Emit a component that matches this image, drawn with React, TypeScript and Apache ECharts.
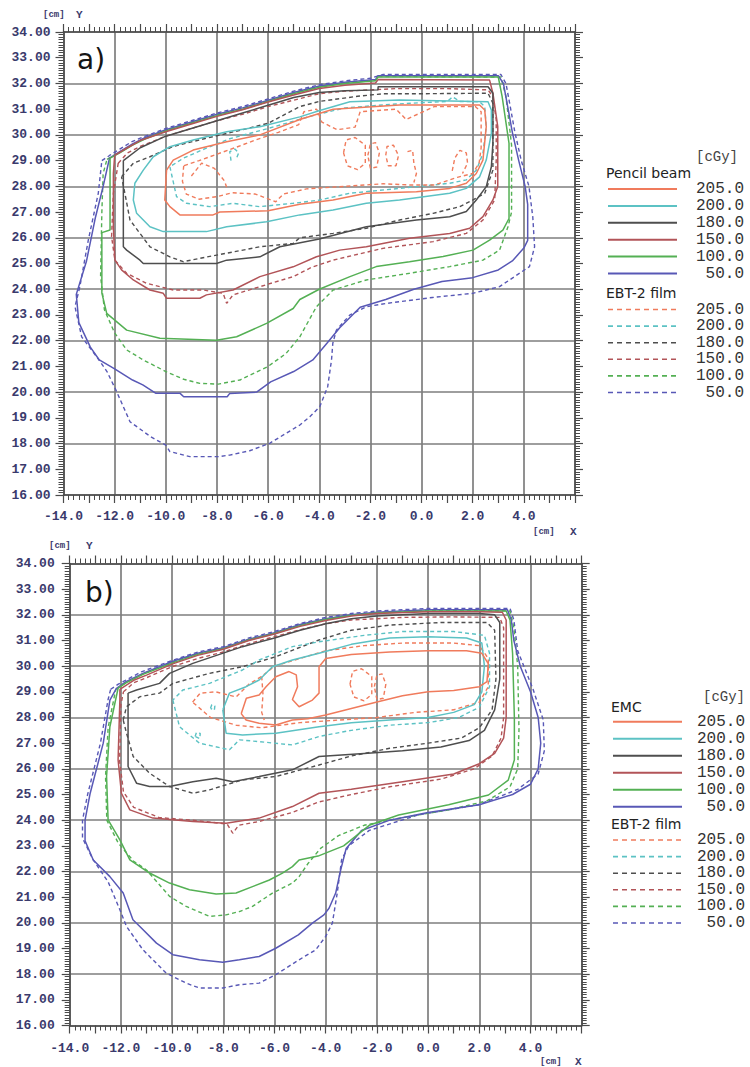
import React, { useEffect, useRef } from "react";
import * as echarts from "echarts";

type Pt = [number, number];

// ---------- axes / labels ----------
const xLabelValues = [-14, -12, -10, -8, -6, -4, -2, 0, 2, 4];
const yLabelValues = [16, 17, 18, 19, 20, 21, 22, 23, 24, 25, 26, 27, 28, 29, 30, 31, 32, 33, 34];
const doseLevels = [205, 200, 180, 150, 100, 50];
const doseColors = ["#f07b5c", "#5cc2c4", "#4e4e4e", "#b25458", "#54b054", "#5858b6"];

// ---------- panel a) Pencil beam (solid) ----------
const aPB205: Pt[] = [[-3.46,31.0],[-4.76,30.6],[-6.32,30.0],[-7.62,29.73],[-8.93,29.41],[-9.71,29.02],[-9.97,28.63],[-10.04,27.47],[-9.84,27.21],[-9.45,26.89],[-8.15,26.89],[-7.89,27.0],[-6.0,27.05],[-4.76,27.3],[-3.46,27.47],[-2.16,27.73],[-0.2,27.79],[1.1,27.92],[1.75,28.12],[2.14,28.5],[2.4,29.02],[2.53,30.32],[2.47,30.97],[2.27,31.16],[-0.86,31.16],[-3.46,31.0]];
const aPB200: Pt[] = [[-3.98,30.95],[-4.76,30.7],[-6.32,30.32],[-7.62,30.12],[-8.93,29.8],[-9.84,29.54],[-10.49,29.15],[-10.88,28.63],[-11.21,28.12],[-11.27,27.47],[-11.14,26.95],[-10.88,26.69],[-10.62,26.43],[-10.1,26.24],[-8.41,26.24],[-7.62,26.43],[-6.06,26.62],[-4.76,26.89],[-3.46,27.08],[-2.16,27.34],[-0.86,27.47],[1.1,27.73],[1.75,27.92],[2.27,28.37],[2.53,29.02],[2.73,30.06],[2.73,30.97],[2.6,31.29],[-0.86,31.36],[-2.8,31.29],[-3.98,30.95]];
const aPB180: Pt[] = [[-11.66,29.0],[-11.0,29.5],[-10.0,29.95],[-9.0,30.25],[-8.0,30.55],[-7.0,30.85],[-6.0,31.15],[-5.0,31.45],[-4.0,31.65],[-3.0,31.72],[-1.7,31.75],[-1.7,31.87],[2.6,31.87],[2.79,31.62],[2.79,29.67],[2.73,28.76],[2.53,27.99],[2.14,27.47],[1.75,27.02],[1.1,26.82],[-0.2,26.69],[-2.16,26.43],[-4.0,25.95],[-5.54,25.65],[-6.32,25.26],[-7.62,25.13],[-8.02,25.0],[-10.88,25.0],[-11.01,25.13],[-11.53,25.52],[-11.66,25.65],[-11.66,29.0]];
const aPB150: Pt[] = [[-12.0,29.2],[-11.5,29.5],[-11.0,29.78],[-10.0,30.12],[-9.0,30.42],[-8.0,30.72],[-7.0,30.98],[-6.0,31.28],[-5.0,31.55],[-4.0,31.8],[-3.0,31.93],[-1.8,32.02],[-1.7,32.15],[2.66,32.13],[2.79,31.62],[2.98,30.32],[2.98,27.99],[2.79,27.47],[2.4,26.82],[1.88,26.37],[1.1,26.17],[-0.47,25.98],[-2.16,25.65],[-3.2,25.52],[-4.11,25.26],[-5.02,24.87],[-6.32,24.49],[-7.37,23.97],[-8.41,23.78],[-8.67,23.65],[-9.97,23.65],[-10.1,23.84],[-10.62,23.97],[-11.27,24.36],[-11.73,24.75],[-11.99,25.13],[-12.05,26.43],[-12.05,28.5],[-12.0,29.2]];
const aPB100: Pt[] = [[-12.18,29.1],[-11.8,29.3],[-11.3,29.6],[-10.8,29.85],[-10.0,30.15],[-9.0,30.45],[-8.0,30.75],[-7.0,31.0],[-6.0,31.3],[-5.0,31.6],[-4.0,31.85],[-3.0,32.0],[-1.8,32.1],[-1.7,32.25],[3.0,32.25],[3.15,31.5],[3.42,29.67],[3.42,26.75],[3.18,26.3],[2.66,25.91],[2.01,25.52],[0.84,25.27],[-0.47,25.07],[-1.77,24.88],[-2.8,24.49],[-4.0,24.0],[-4.76,23.6],[-5.02,23.25],[-6.06,22.67],[-7.23,22.15],[-8.02,22.02],[-10.23,22.09],[-11.53,22.41],[-12.31,23.06],[-12.5,23.85],[-12.5,26.2],[-12.18,26.3],[-12.18,29.1]];
const aPB50: Pt[] = [[-12.2,29.1],[-11.8,29.35],[-11.3,29.65],[-10.8,29.9],[-10.0,30.2],[-9.0,30.5],[-8.0,30.8],[-7.0,31.05],[-6.0,31.35],[-5.0,31.65],[-4.0,31.9],[-3.0,32.05],[-1.8,32.15],[-1.7,32.3],[3.0,32.3],[3.2,32.0],[3.35,31.2],[3.55,30.1],[3.8,29.0],[4.05,28.0],[4.15,27.3],[4.15,25.9],[4.0,25.6],[3.55,25.1],[3.0,24.75],[2.0,24.45],[0.8,24.3],[-0.3,24.0],[-1.4,23.6],[-2.4,23.3],[-3.2,22.5],[-3.7,21.9],[-4.25,21.25],[-5.0,20.8],[-5.9,20.4],[-6.45,20.0],[-7.5,19.95],[-7.6,19.82],[-9.3,19.82],[-9.45,19.96],[-10.4,19.96],[-10.9,20.28],[-11.3,20.47],[-12.0,20.9],[-12.6,21.25],[-12.95,21.75],[-13.4,22.7],[-13.5,23.8],[-13.1,25.1],[-12.75,26.8],[-12.45,28.0],[-12.2,29.1]];

// ---------- panel a) EBT-2 film (dashed) ----------
const aFilm205: Pt[] = [[-9.3,28.8],[-9.35,28.2],[-9.2,27.7],[-8.7,27.5],[-8.0,27.6],[-7.4,27.75],[-6.5,27.7],[-5.7,27.4],[-5.4,27.7],[-4.5,27.9],[-3.0,28.0],[-1.5,28.1],[-0.4,28.05],[0.5,28.05],[1.4,28.35],[2.0,28.5],[2.25,28.9],[2.33,29.5],[2.33,30.9],[2.1,31.1],[0.5,31.1],[-0.6,30.6],[-1.0,31.0],[-2.4,30.9],[-2.6,30.3],[-3.3,30.2],[-3.9,30.5],[-4.1,31.0],[-4.6,30.9],[-4.8,30.4],[-5.6,30.1],[-6.5,29.8],[-7.3,29.5],[-8.0,29.25],[-8.7,29.0],[-9.3,28.8]];
const aFilm205b: Pt[] = [[-3.05,29.3],[-2.95,29.8],[-2.6,29.9],[-2.2,29.6],[-2.2,28.9],[-2.5,28.65],[-2.9,28.8],[-3.05,29.3]];
const aFilm205c: Pt[] = [[-2.1,29.2],[-2.0,29.65],[-1.8,29.7],[-1.65,29.3],[-1.75,28.75],[-2.0,28.7],[-2.1,29.2]];
const aFilm205d: Pt[] = [[-1.4,29.2],[-1.35,29.55],[-1.1,29.6],[-0.9,29.2],[-1.0,28.8],[-1.3,28.8],[-1.4,29.2]];
const aFilm205e: Pt[] = [[-0.55,29.35],[-0.35,29.4],[-0.3,28.9],[-0.2,28.5],[-0.3,28.15]];
const aFilm205f: Pt[] = [[1.2,28.6],[1.3,29.1],[1.5,29.4],[1.75,29.3],[1.8,28.9],[1.6,28.5]];
const aFilm205g: Pt[] = [[-9.0,28.4],[-8.6,28.9],[-8.1,28.7],[-7.7,28.2],[-7.6,27.9]];
const aFilm200: Pt[] = [[-9.84,28.76],[-9.58,27.6],[-9.19,27.34],[-8.28,27.21],[-7.37,27.34],[-6.32,27.21],[-5.02,27.34],[-3.98,27.47],[-2.81,27.73],[-0.86,27.92],[1.1,28.12],[1.75,28.25],[2.14,28.63],[2.4,29.28],[2.53,30.32],[2.47,31.1],[2.27,31.29],[1.5,31.3],[1.22,31.48],[1.0,31.3],[-1.0,31.2],[-3.0,31.05],[-4.25,30.75],[-6.0,30.25],[-7.5,29.85],[-8.5,29.45],[-9.3,29.1],[-9.84,28.76]];
const aFilm200b: Pt[] = [[-7.45,29.0],[-7.5,29.35],[-7.3,29.45],[-7.15,29.3],[-7.25,29.05]];
const aFilm180: Pt[] = [[-11.73,28.37],[-11.27,28.9],[-10.62,29.15],[-9.71,29.55],[-8.5,29.85],[-7.0,30.2],[-6.0,30.45],[-4.76,31.1],[-4.0,31.3],[-2.5,31.5],[-1.5,31.6],[0.0,31.6],[2.6,31.62],[2.79,31.23],[2.79,28.63],[2.47,27.73],[2.01,27.47],[1.49,27.21],[0.45,26.95],[-0.86,26.69],[-2.16,26.37],[-3.46,26.17],[-4.76,26.0],[-5.02,25.78],[-6.32,25.65],[-7.62,25.4],[-8.67,25.2],[-9.32,25.07],[-9.84,25.26],[-10.62,25.65],[-11.4,26.69],[-11.6,27.73],[-11.73,28.37]];
const aFilm150: Pt[] = [[-11.86,28.9],[-11.5,29.3],[-11.0,29.55],[-10.0,29.95],[-9.0,30.25],[-8.0,30.55],[-7.0,30.8],[-6.0,31.1],[-5.0,31.35],[-4.0,31.6],[-3.0,31.7],[-1.0,31.8],[1.0,31.8],[2.6,31.75],[2.79,31.48],[2.92,30.58],[2.92,29.02],[2.86,27.47],[2.4,26.69],[1.75,26.17],[0.45,25.85],[-1.51,25.59],[-3.46,25.13],[-4.3,24.85],[-5.02,24.49],[-6.32,24.1],[-7.37,23.78],[-7.62,23.45],[-7.76,23.84],[-8.54,23.97],[-9.71,23.97],[-10.75,24.23],[-11.53,24.62],[-11.99,25.13],[-12.12,26.04],[-12.05,27.73],[-11.86,28.9]];
const aFilm100: Pt[] = [[-12.3,29.05],[-11.8,29.33],[-11.3,29.62],[-10.8,29.87],[-10.0,30.18],[-9.0,30.48],[-8.0,30.78],[-7.0,31.03],[-6.0,31.33],[-5.0,31.63],[-4.0,31.88],[-3.0,32.03],[-1.8,32.12],[-1.7,32.27],[3.1,32.25],[3.3,31.5],[3.52,29.6],[3.52,27.0],[3.38,26.43],[3.05,25.52],[2.4,25.13],[1.1,24.88],[-0.47,24.62],[-2.16,24.36],[-3.46,23.97],[-4.11,23.32],[-4.76,22.15],[-5.3,21.5],[-6.0,21.0],[-7.1,20.47],[-7.95,20.31],[-8.67,20.34],[-9.3,20.5],[-10.0,20.8],[-10.88,21.25],[-11.53,21.64],[-12.0,22.3],[-12.4,23.2],[-12.55,24.5],[-12.5,27.0],[-12.45,28.5],[-12.3,29.05]];
const aFilm50: Pt[] = [[-12.5,29.0],[-12.2,29.2],[-11.8,29.45],[-11.3,29.75],[-10.8,29.95],[-10.0,30.25],[-9.0,30.55],[-8.0,30.85],[-7.0,31.1],[-6.0,31.4],[-5.0,31.7],[-4.0,31.95],[-3.0,32.1],[-2.0,32.2],[-1.5,32.35],[3.1,32.35],[3.3,32.0],[3.45,31.2],[3.65,30.1],[3.9,29.0],[4.2,28.0],[4.35,26.8],[4.42,25.65],[4.22,24.88],[3.05,24.1],[2.0,23.84],[0.43,23.68],[-1.36,23.45],[-2.16,23.32],[-2.8,23.0],[-3.33,22.41],[-3.47,21.9],[-3.52,21.25],[-3.67,20.21],[-3.98,19.43],[-4.37,19.04],[-4.76,18.72],[-5.94,18.01],[-6.72,17.72],[-7.5,17.55],[-7.96,17.49],[-9.06,17.49],[-9.84,17.69],[-10.0,17.94],[-10.6,18.27],[-11.4,18.85],[-11.95,20.08],[-12.3,20.8],[-12.7,21.37],[-13.29,22.15],[-13.55,23.32],[-13.36,24.1],[-13.03,25.91],[-12.64,27.73],[-12.5,29.0]];

// ---------- panel b) EMC (solid) ----------
const bEMC205: Pt[] = [[-7.3,28.15],[-7.1,28.75],[-6.6,28.88],[-6.33,29.2],[-5.95,29.59],[-5.43,29.79],[-5.15,29.66],[-5.1,29.2],[-5.3,28.7],[-5.04,28.42],[-4.52,28.68],[-4.26,28.95],[-4.26,29.98],[-4.0,30.3],[-3.0,30.45],[-1.5,30.55],[0.0,30.6],[1.5,30.6],[2.1,30.5],[2.35,30.1],[2.3,29.4],[2.0,29.2],[1.0,29.05],[0.0,29.0],[-1.0,28.85],[-2.0,28.6],[-3.0,28.35],[-4.0,28.1],[-4.7,27.95],[-5.3,27.9],[-5.95,27.71],[-6.6,27.78],[-7.11,27.9],[-7.3,28.15]];
const bEMC200: Pt[] = [[-8.02,28.3],[-7.76,28.95],[-7.11,29.2],[-6.6,29.46],[-6.08,29.98],[-5.3,30.24],[-4.26,30.5],[-3.0,30.85],[-1.5,31.1],[0.0,31.15],[1.5,31.1],[2.1,30.9],[2.2,30.0],[2.1,29.0],[1.8,28.5],[1.0,28.2],[0.0,28.0],[-1.5,27.9],[-3.0,27.8],[-4.26,27.64],[-5.95,27.39],[-7.25,27.32],[-7.89,27.39],[-8.02,28.3]];
const bEMC180: Pt[] = [[-11.72,28.95],[-11.39,29.07],[-10.49,29.33],[-10.1,29.72],[-9.19,30.11],[-7.25,30.76],[-6.0,31.1],[-5.0,31.4],[-4.0,31.65],[-3.0,31.85],[-2.0,31.95],[0.0,32.05],[2.0,32.05],[2.6,32.0],[2.8,31.7],[2.8,29.5],[2.6,28.3],[2.2,27.5],[1.6,27.1],[0.5,26.85],[-1.0,26.7],[-2.5,26.6],[-4.26,26.48],[-5.3,25.96],[-6.6,25.7],[-7.63,25.5],[-8.28,25.63],[-9.19,25.5],[-10.1,25.31],[-10.88,25.31],[-11.39,25.44],[-11.72,26.09],[-11.72,28.95]];
const bEMC150: Pt[] = [[-12.04,29.1],[-11.5,29.45],[-11.0,29.65],[-10.0,30.08],[-9.0,30.42],[-8.0,30.66],[-7.0,31.0],[-6.0,31.25],[-5.0,31.55],[-4.0,31.78],[-3.0,31.95],[-2.0,32.05],[0.0,32.12],[2.0,32.12],[2.9,32.1],[3.05,31.8],[3.05,28.0],[2.95,27.2],[2.6,26.6],[2.0,26.2],[1.0,25.8],[-1.0,25.5],[-3.0,25.2],[-4.26,25.05],[-5.3,24.53],[-6.6,24.08],[-7.89,23.88],[-9.19,23.95],[-10.75,24.08],[-11.65,24.4],[-11.98,25.05],[-12.11,26.35],[-12.04,28.69],[-12.04,29.1]];
const bEMC100: Pt[] = [[-12.11,29.14],[-11.8,29.35],[-11.14,29.68],[-10.0,30.12],[-9.0,30.46],[-8.0,30.68],[-7.0,31.02],[-6.0,31.27],[-5.0,31.58],[-4.0,31.82],[-3.0,31.97],[-2.0,32.07],[0.0,32.15],[2.0,32.15],[3.05,32.15],[3.2,31.8],[3.3,30.5],[3.37,28.0],[3.37,26.35],[3.13,25.56],[2.36,24.98],[0.8,24.6],[-1.15,24.2],[-2.3,23.8],[-3.3,23.0],[-4.3,22.6],[-5.04,22.45],[-5.3,22.19],[-5.69,21.94],[-6.2,21.67],[-6.86,21.41],[-7.5,21.16],[-8.28,21.12],[-9.32,21.29],[-10.1,21.55],[-10.88,21.94],[-11.65,22.45],[-12.04,23.23],[-12.5,24.01],[-12.56,25.7],[-12.43,27.64],[-12.11,29.14]];
const bEMC50: Pt[] = [[-12.17,29.14],[-11.8,29.4],[-11.14,29.72],[-10.0,30.18],[-9.0,30.5],[-8.0,30.72],[-7.0,31.05],[-6.0,31.3],[-5.0,31.62],[-4.0,31.85],[-3.0,32.0],[-2.0,32.1],[0.0,32.2],[2.0,32.2],[3.1,32.2],[3.25,31.8],[3.35,31.0],[3.6,30.0],[4.0,29.0],[4.3,28.0],[4.4,27.0],[4.3,26.0],[4.0,25.4],[3.3,25.0],[2.0,24.6],[0.0,24.3],[-1.5,24.0],[-2.6,23.6],[-3.2,22.9],[-3.42,22.04],[-3.61,21.16],[-3.87,20.57],[-4.07,20.31],[-4.52,19.99],[-5.07,19.53],[-5.95,19.01],[-6.6,18.69],[-7.37,18.56],[-8.02,18.46],[-8.93,18.56],[-9.97,18.76],[-10.61,19.21],[-11.26,19.86],[-11.53,20.12],[-11.91,21.16],[-12.43,21.8],[-13.08,22.45],[-13.4,23.2],[-13.4,24.0],[-13.2,25.05],[-12.69,27.0],[-12.43,28.68],[-12.17,29.14]];

// ---------- panel b) EBT-2 film (dashed) ----------
const bFilm205: Pt[] = [[-9.2,28.6],[-8.9,28.95],[-8.3,29.0],[-7.5,28.8],[-7.0,29.3],[-6.5,29.6],[-6.0,30.0],[-5.0,30.3],[-4.0,30.6],[-2.5,30.8],[-1.0,30.9],[1.0,30.9],[2.0,30.8],[2.35,30.3],[2.35,29.2],[2.0,28.6],[1.0,28.3],[-0.5,28.2],[-2.0,28.0],[-3.5,27.9],[-5.0,27.8],[-6.5,27.6],[-7.5,27.7],[-8.5,28.0],[-9.2,28.6]];
const bFilm205b: Pt[] = [[-3.05,29.3],[-2.95,29.8],[-2.6,29.9],[-2.2,29.6],[-2.2,28.9],[-2.5,28.65],[-2.9,28.8],[-3.05,29.3]];
const bFilm205c: Pt[] = [[-2.1,29.2],[-2.0,29.65],[-1.8,29.7],[-1.65,29.3],[-1.75,28.75],[-2.0,28.7],[-2.1,29.2]];
const bFilm205d: Pt[] = [[-6.5,29.6],[-6.45,28.9],[-6.5,28.2],[-6.4,27.9]];
const bFilm200: Pt[] = [[-9.97,28.68],[-9.71,27.64],[-8.93,27.0],[-7.76,26.74],[-7.37,27.13],[-6.6,27.06],[-5.3,26.93],[-4.26,27.26],[-3.0,27.5],[-1.5,27.7],[0.0,27.8],[1.2,28.0],[2.0,28.4],[2.4,29.2],[2.4,30.5],[2.2,31.2],[1.0,31.35],[-1.0,31.35],[-2.5,31.2],[-4.26,30.95],[-5.3,30.76],[-5.95,30.5],[-6.6,30.24],[-7.25,29.85],[-8.54,29.33],[-9.58,29.07],[-9.97,28.68]];
const bFilm200b: Pt[] = [[-8.5,28.36],[-8.45,28.5],[-8.33,28.45],[-8.35,28.28],[-8.5,28.36]];
const bFilm200c: Pt[] = [[-9.1,27.26],[-9.05,27.42],[-8.9,27.38],[-8.92,27.18],[-9.1,27.26]];
const bFilm180: Pt[] = [[-11.91,27.9],[-11.78,28.42],[-11.26,28.81],[-10.49,28.95],[-9.97,29.33],[-8.54,29.72],[-7.25,29.98],[-5.95,30.37],[-4.26,31.02],[-3.0,31.4],[-1.5,31.6],[0.5,31.7],[2.3,31.7],[2.6,31.4],[2.65,29.5],[2.5,28.3],[2.0,27.6],[1.3,27.2],[0.0,27.0],[-1.5,26.8],[-3.0,26.5],[-4.26,26.15],[-5.95,25.7],[-7.25,25.57],[-8.54,25.18],[-9.19,25.05],[-10.1,25.31],[-10.88,25.83],[-11.52,26.48],[-11.78,27.39],[-11.91,27.9]];
const bFilm150: Pt[] = [[-11.9,29.0],[-11.5,29.35],[-11.0,29.55],[-10.0,29.98],[-9.0,30.3],[-8.0,30.55],[-7.0,30.88],[-6.0,31.15],[-5.0,31.42],[-4.0,31.65],[-3.0,31.8],[-1.0,31.9],[1.0,31.92],[2.8,31.9],[2.95,31.5],[2.95,28.0],[2.85,27.2],[2.5,26.5],[1.8,26.0],[0.5,25.6],[-1.5,25.3],[-3.0,25.0],[-4.3,24.7],[-5.3,24.3],[-6.6,23.95],[-7.4,23.8],[-7.63,23.49],[-7.85,23.85],[-9.2,24.0],[-10.5,24.1],[-11.5,24.5],[-11.9,25.1],[-12.05,26.3],[-12.0,28.5],[-11.9,29.0]];
const bFilm100: Pt[] = [[-12.2,29.1],[-11.8,29.37],[-11.14,29.7],[-10.0,30.15],[-9.0,30.48],[-8.0,30.7],[-7.0,31.04],[-6.0,31.29],[-5.0,31.6],[-4.0,31.84],[-3.0,31.99],[-2.0,32.09],[0.0,32.18],[2.0,32.18],[3.2,32.15],[3.35,31.5],[3.5,30.0],[3.55,27.5],[3.5,26.0],[3.2,25.3],[2.3,24.75],[0.8,24.4],[-1.0,24.1],[-2.5,23.8],[-3.5,23.4],[-4.2,22.9],[-4.7,22.3],[-5.04,21.8],[-5.3,21.55],[-6.08,21.16],[-6.86,20.64],[-7.37,20.44],[-7.89,20.31],[-8.54,20.25],[-9.45,20.64],[-10.1,21.03],[-11.0,22.06],[-11.5,22.4],[-12.1,23.1],[-12.55,24.0],[-12.6,25.7],[-12.5,27.6],[-12.2,29.1]];
const bFilm50: Pt[] = [[-12.4,29.1],[-12.1,29.3],[-11.2,29.78],[-10.0,30.22],[-9.0,30.55],[-8.0,30.76],[-7.0,31.1],[-6.0,31.35],[-5.0,31.66],[-4.0,31.9],[-3.0,32.05],[-2.0,32.15],[0.0,32.25],[2.0,32.25],[3.2,32.25],[3.35,31.8],[3.5,30.6],[4.1,29.1],[4.5,27.9],[4.54,26.7],[4.3,25.8],[3.5,25.2],[1.96,24.6],[-0.4,24.2],[-2.3,23.6],[-3.1,23.0],[-3.38,22.45],[-3.55,21.16],[-3.74,19.99],[-4.0,19.47],[-4.39,18.95],[-5.04,18.56],[-5.95,17.98],[-6.6,17.65],[-7.37,17.59],[-8.02,17.46],[-8.93,17.46],[-9.45,17.65],[-10.23,18.04],[-11.14,18.95],[-11.78,19.86],[-12.04,20.51],[-12.5,21.6],[-13.08,22.45],[-13.5,23.3],[-13.5,24.0],[-13.3,25.0],[-12.8,27.0],[-12.5,28.7],[-12.4,29.1]];

// contour index -> dose color index
const panelA: { data: Pt[]; c: number; dash: boolean }[] = [
  { data: aFilm50, c: 5, dash: true }, { data: aFilm100, c: 4, dash: true }, { data: aFilm150, c: 3, dash: true },
  { data: aFilm180, c: 2, dash: true }, { data: aFilm200, c: 1, dash: true }, { data: aFilm200b, c: 1, dash: true },
  { data: aFilm205, c: 0, dash: true }, { data: aFilm205b, c: 0, dash: true }, { data: aFilm205c, c: 0, dash: true },
  { data: aFilm205d, c: 0, dash: true }, { data: aFilm205e, c: 0, dash: true }, { data: aFilm205f, c: 0, dash: true },
  { data: aFilm205g, c: 0, dash: true },
  { data: aPB50, c: 5, dash: false }, { data: aPB100, c: 4, dash: false }, { data: aPB150, c: 3, dash: false },
  { data: aPB180, c: 2, dash: false }, { data: aPB200, c: 1, dash: false }, { data: aPB205, c: 0, dash: false },
];
const panelB: { data: Pt[]; c: number; dash: boolean }[] = [
  { data: bFilm50, c: 5, dash: true }, { data: bFilm100, c: 4, dash: true }, { data: bFilm150, c: 3, dash: true },
  { data: bFilm180, c: 2, dash: true }, { data: bFilm200, c: 1, dash: true }, { data: bFilm200b, c: 1, dash: true },
  { data: bFilm200c, c: 1, dash: true }, { data: bFilm205, c: 0, dash: true }, { data: bFilm205b, c: 0, dash: true },
  { data: bFilm205c, c: 0, dash: true }, { data: bFilm205d, c: 0, dash: true },
  { data: bEMC50, c: 5, dash: false }, { data: bEMC100, c: 4, dash: false }, { data: bEMC150, c: 3, dash: false },
  { data: bEMC180, c: 2, dash: false }, { data: bEMC200, c: 1, dash: false }, { data: bEMC205, c: 0, dash: false },
];

const grids = [
  { left: 63.5, top: 32, width: 511.5, height: 463, yMargin: 13, xMargin: 15 },
  { left: 69.7, top: 563.5, width: 512, height: 462, yMargin: 15, xMargin: 16 },
];

const monoFont = "'Liberation Mono', 'DejaVu Sans Mono', monospace";
const sansFont = "'DejaVu Sans', Verdana, sans-serif";
const labelColor = "#3a3a6c";
const axisColor = "#4a4a4a";
const gridColor = "#7e7e7e";

function buildAxes() {
  const xAxis: any[] = [];
  const yAxis: any[] = [];
  grids.forEach((g, gi) => {
    const tickX = {
      gridIndex: gi, type: "value", min: -14, max: 6, interval: 1,
      axisLine: { show: true, onZero: false, lineStyle: { color: axisColor, width: 1.5 } },
      axisTick: { show: true, length: 8, lineStyle: { color: axisColor, width: 1.2 } },
      minorTick: { show: true, splitNumber: 5, length: 5, lineStyle: { color: axisColor, width: 1 } },
      splitLine: { show: false },
    };
    xAxis.push({
      ...tickX, position: "bottom",
      axisLabel: {
        show: true, margin: g.xMargin, hideOverlap: false, showMinLabel: true, showMaxLabel: false,
        fontFamily: monoFont, fontSize: 13, fontWeight: "bold", color: labelColor,
        formatter: (v: number) => (xLabelValues.indexOf(Math.round(v)) >= 0 ? v.toFixed(1) : ""),
      },
    });
    xAxis.push({ ...tickX, position: "top", axisLabel: { show: false } });
    xAxis.push({
      gridIndex: gi, type: "value", min: -14, max: 6, interval: 2, position: "bottom",
      axisLine: { show: false }, axisTick: { show: false }, axisLabel: { show: false },
      splitLine: { show: true, lineStyle: { color: gridColor, width: 1.7 } },
    });
    const tickY = {
      gridIndex: gi, type: "value", min: 16, max: 34, interval: 1,
      axisLine: { show: true, onZero: false, lineStyle: { color: axisColor, width: 1.5 } },
      axisTick: { show: true, length: 8, lineStyle: { color: axisColor, width: 1.2 } },
      minorTick: { show: true, splitNumber: 10, length: 5, lineStyle: { color: axisColor, width: 1 } },
      splitLine: { show: false },
    };
    yAxis.push({
      ...tickY, position: "left",
      axisLabel: {
        show: true, margin: g.yMargin, hideOverlap: false, showMinLabel: true, showMaxLabel: true,
        fontFamily: monoFont, fontSize: 13, fontWeight: "bold", color: labelColor,
        formatter: (v: number) => (yLabelValues.indexOf(Math.round(v)) >= 0 ? v.toFixed(2) : ""),
      },
    });
    yAxis.push({ ...tickY, position: "right", axisLabel: { show: false } });
    yAxis.push({
      gridIndex: gi, type: "value", min: 16, max: 34, interval: 2, position: "left",
      axisLine: { show: false }, axisTick: { show: false }, axisLabel: { show: false },
      splitLine: { show: true, lineStyle: { color: gridColor, width: 1.7 } },
    });
  });
  return { xAxis, yAxis };
}

function buildSeries() {
  const series: any[] = [];
  [panelA, panelB].forEach((panel, pi) => {
    panel.forEach((s) => {
      series.push({
        type: "line", xAxisIndex: pi * 3, yAxisIndex: pi * 3,
        data: s.data, showSymbol: false, symbol: "none", silent: true, smooth: false,
        lineStyle: { color: doseColors[s.c], width: s.dash ? 1.4 : 1.5, type: s.dash ? [4, 3] : "solid" },
        z: s.dash ? 3 : 4,
      });
    });
  });
  return series;
}

function text(x: number, y: number, t: string, font: string, fill: string, align = "left") {
  return { type: "text", x, y, silent: true, style: { text: t, font, fill, align, verticalAlign: "middle" } };
}

function legend(xLine: number, xVal: number, yHdr: number, hdr: string, yFirst: number, step: number, yFilmHdr: number, yFilmFirst: number, filmStep: number, yUnit: number, xUnit: number) {
  const els: any[] = [];
  els.push(text(xUnit, yUnit, "[cGy]", `14px ${monoFont}`, "#444", "right"));
  els.push(text(xLine - 2, yHdr, hdr, `14px ${sansFont}`, "#222"));
  els.push(text(xLine - 2, yFilmHdr, "EBT-2 film", `14px ${sansFont}`, "#222"));
  doseLevels.forEach((d, i) => {
    const y1 = yFirst + i * step;
    els.push({ type: "line", silent: true, shape: { x1: xLine, y1, x2: xLine + 69, y2: y1 }, style: { stroke: doseColors[i], lineWidth: 2 } });
    els.push(text(xVal, y1, d.toFixed(1), `16px ${monoFont}`, "#333", "right"));
    const y2 = yFilmFirst + i * filmStep;
    els.push({ type: "line", silent: true, shape: { x1: xLine, y1: y2, x2: xLine + 69, y2 }, style: { stroke: doseColors[i], lineWidth: 1.6, lineDash: [5, 4] } });
    els.push(text(xVal, y2, d.toFixed(1), `16px ${monoFont}`, "#333", "right"));
  });
  return els;
}

function buildGraphic() {
  const els: any[] = [];
  // panel letters
  els.push(text(77, 59, "a)", `28px ${sansFont}`, "#151515"));
  els.push(text(85, 592, "b)", `28px ${sansFont}`, "#151515"));
  // axis unit labels
  const small = `bold 9px ${monoFont}`;
  els.push(text(43, 15, "[cm]", small, labelColor));
  els.push(text(76, 15, "Y", `bold 11px ${monoFont}`, labelColor));
  els.push(text(533, 532, "[cm]", small, labelColor));
  els.push(text(570, 532, "X", `bold 11px ${monoFont}`, labelColor));
  els.push(text(49, 546, "[cm]", small, labelColor));
  els.push(text(86, 546, "Y", `bold 11px ${monoFont}`, labelColor));
  els.push(text(540, 1062, "[cm]", small, labelColor));
  els.push(text(575, 1062, "X", `bold 11px ${monoFont}`, labelColor));
  els.push(...legend(608, 744, 173, "Pencil beam", 189, 16.9, 293, 309.5, 16.6, 157, 738));
  els.push(...legend(613, 745, 707, "EMC", 721.7, 17, 824, 840, 16.6, 697, 745));
  return els;
}

export default function App() {
  const ref = useRef<HTMLDivElement>(null);
  useEffect(() => {
    if (!ref.current) return;
    const chart = echarts.init(ref.current, null, { renderer: "svg" });
    const { xAxis, yAxis } = buildAxes();
    chart.setOption({
      animation: false,
      backgroundColor: "#ffffff",
      grid: grids.map((g) => ({ left: g.left, top: g.top, width: g.width, height: g.height, containLabel: false })),
      xAxis, yAxis,
      series: buildSeries(),
      graphic: buildGraphic(),
    });
    return () => chart.dispose();
  }, []);
  return <div ref={ref} style={{ position: "absolute", left: 0, top: 0, width: 750, height: 1067 }} />;
}
